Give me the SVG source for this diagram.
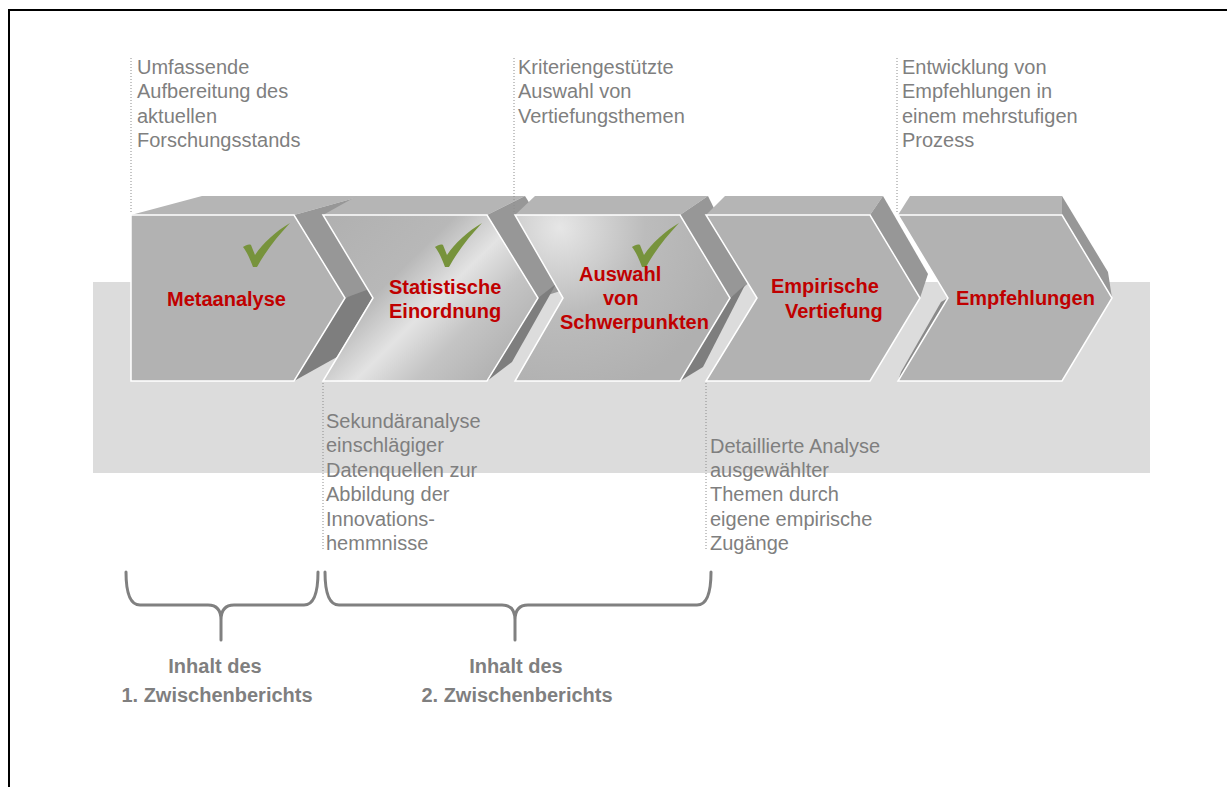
<svg xmlns="http://www.w3.org/2000/svg" width="1227" height="787" viewBox="0 0 1227 787">
<defs>
<style>
.front{fill:#b2b2b2;stroke:#ffffff;stroke-width:1.5}
.top{fill:#b5b5b5}
.side{fill:#979797}
.low{fill:#7e7e7e}
.wall{fill:#8a8a8a}
.lbl{font-family:"Liberation Sans",Arial,sans-serif;font-weight:bold;font-size:20px;fill:#c00000}
.ann{font-family:"Liberation Sans",Arial,sans-serif;font-size:20px;fill:#7f7f7f}
.grp{font-family:"Liberation Sans",Arial,sans-serif;font-weight:bold;font-size:20px;fill:#7f7f7f;text-anchor:middle}
.dot{stroke:#8c8c8c;stroke-width:1;stroke-dasharray:1 2;fill:none}
.brace{stroke:#808080;stroke-width:3;fill:none;stroke-linecap:round;stroke-linejoin:round}
.chk{fill:#77933c}
</style>
<linearGradient id="g2" gradientUnits="userSpaceOnUse" x1="323" y1="215" x2="487" y2="381">
<stop offset="0" stop-color="#b0b0b0"/>
<stop offset="0.4" stop-color="#b8b8b8"/>
<stop offset="0.6" stop-color="#e3e3e3"/>
<stop offset="0.78" stop-color="#c4c4c4"/>
<stop offset="1" stop-color="#b2b2b2"/>
</linearGradient>
<radialGradient id="g3" gradientUnits="userSpaceOnUse" cx="560" cy="228" r="170">
<stop offset="0" stop-color="#e6e6e6"/>
<stop offset="0.5" stop-color="#bcbcbc"/>
<stop offset="1" stop-color="#b0b0b0"/>
</radialGradient>
<path id="check" d="M0,0 C3,-2 6,-3 8,-2 L12,8 C20,-4 32,-15 47,-24 C35,-11 24,2 14,20 L10,20 C7,12 4,5 0,0 Z"/>
</defs>

<path d="M9,787 V10 H1227" stroke="#000" stroke-width="2" fill="none"/>
<rect id="band" x="93" y="282" width="1057" height="191" fill="#dcdcdc"/>

<g id="step1">
<polygon class="top" points="131,215 202,196 362,196 294,215"/>
<polygon class="side" points="294,215 362,196 420,280 345,298"/>
<polygon class="low" points="345,298 380,285 337,357 294,381"/>
<path class="front" d="M131,215 H294 L345,298 L294,381 H131 Z"/>
<use href="#check" class="chk" x="243" y="247"/>
<text class="lbl" x="167" y="306">Metaanalyse</text>
</g>

<g id="step2">
<polygon class="top" points="323,215 357,196 525,196 487,215"/>
<polygon class="side" points="487,215 525,196 580,285 538,298"/>
<polygon class="low" points="538,298 556,284 512,362 487,381"/>
<path class="front" style="fill:url(#g2)" d="M323,215 H487 L538,298 L487,381 H323 L373,298 Z"/>
<use href="#check" class="chk" x="435" y="247"/>
<text class="lbl" x="389" y="294">Statistische</text>
<text class="lbl" x="389" y="318">Einordnung</text>
</g>

<g id="step3">
<polygon class="top" points="515,215 535,196 708,196 680,215"/>
<polygon class="side" points="680,215 708,196 750,282 730,298"/>
<polygon class="low" points="730,298 745,285 703,367 680,381"/>
<path class="front" style="fill:url(#g3)" d="M515,215 H680 L730,298 L680,381 H515 L563,298 Z"/>
<use href="#check" class="chk" x="632" y="247"/>
<text class="lbl" x="579" y="281">Auswahl</text>
<text class="lbl" x="603" y="305">von</text>
<text class="lbl" x="560" y="329">Schwerpunkten</text>
</g>

<g id="step4">
<polygon class="top" points="706,215 725,196 883,196 870,215"/>
<polygon class="side" points="870,215 883,196 928,274 920,298"/>
<path class="front" d="M706,215 H870 L920,298 L870,381 H706 L757,298 Z"/>
<text class="lbl" x="771" y="293">Empirische</text>
<text class="lbl" x="785" y="318">Vertiefung</text>
</g>

<g id="step5">
<polygon class="top" points="898,215 910,196 1062,196 1062,215"/>
<polygon class="side" points="1062,215 1062,196 1108,272 1112,298"/>
<polygon class="wall" points="948,298 941,302 901,372 898,381"/>
<path class="front" d="M898,215 H1062 L1112,298 L1062,381 H898 L948,298 Z"/>
<text class="lbl" x="956" y="305">Empfehlungen</text>
</g>

<g id="connectors">
<line class="dot" x1="131" y1="58" x2="131" y2="213"/>
<line class="dot" x1="514" y1="58" x2="514" y2="213"/>
<line class="dot" x1="897" y1="58" x2="897" y2="213"/>
<line class="dot" x1="323" y1="383" x2="323" y2="550"/>
<line class="dot" x1="706" y1="383" x2="706" y2="550"/>
<path class="brace" d="M126,572 Q126,605 140,605 H208 Q221,605 221,620 V640 M318,572 Q318,605 304,605 H234 Q221,605 221,620"/>
<path class="brace" d="M325,572 Q325,605 339,605 H502 Q515,605 515,620 V640 M711,572 Q711,605 697,605 H528 Q515,605 515,620"/>
</g>

<g id="notes">
<text class="ann" x="137" y="74">Umfassende</text>
<text class="ann" x="137" y="98">Aufbereitung des</text>
<text class="ann" x="137" y="123">aktuellen</text>
<text class="ann" x="137" y="147">Forschungsstands</text>
<text class="ann" x="518" y="74">Kriteriengestützte</text>
<text class="ann" x="518" y="98">Auswahl von</text>
<text class="ann" x="518" y="123">Vertiefungsthemen</text>
<text class="ann" x="902" y="74">Entwicklung von</text>
<text class="ann" x="902" y="98">Empfehlungen in</text>
<text class="ann" x="902" y="123">einem mehrstufigen</text>
<text class="ann" x="902" y="147">Prozess</text>
<text class="ann" x="326" y="428">Sekundäranalyse</text>
<text class="ann" x="326" y="452">einschlägiger</text>
<text class="ann" x="326" y="477">Datenquellen zur</text>
<text class="ann" x="326" y="501">Abbildung der</text>
<text class="ann" x="326" y="526">Innovations-</text>
<text class="ann" x="326" y="550">hemmnisse</text>
<text class="ann" x="710" y="453">Detaillierte Analyse</text>
<text class="ann" x="710" y="477">ausgewählter</text>
<text class="ann" x="710" y="501">Themen durch</text>
<text class="ann" x="710" y="526">eigene empirische</text>
<text class="ann" x="710" y="550">Zugänge</text>
<text class="grp" x="215" y="673">Inhalt des</text>
<text class="grp" x="217" y="702">1. Zwischenberichts</text>
<text class="grp" x="516" y="673">Inhalt des</text>
<text class="grp" x="517" y="702">2. Zwischenberichts</text>
</g>
</svg>
